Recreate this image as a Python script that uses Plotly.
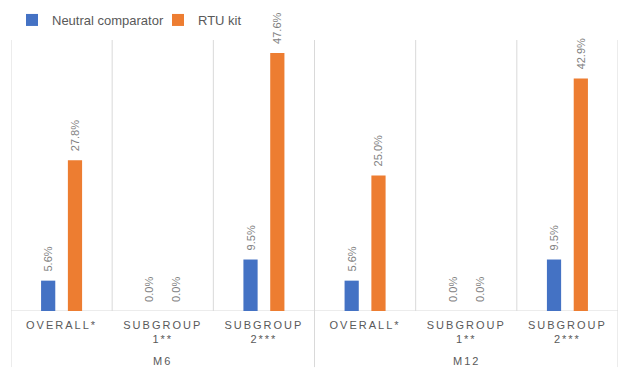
import plotly.graph_objects as go

categories = ["OVERALL*", "SUBGROUP<br>1**", "SUBGROUP<br>2***",
              "OVERALL*", "SUBGROUP<br>1**", "SUBGROUP<br>2***"]
groups = ["M6", "M12"]
neutral = [5.6, 0.0, 9.5, 5.6, 0.0, 9.5]
rtu = [27.8, 0.0, 47.6, 25.0, 0.0, 42.9]

BLUE = "#4472C4"
ORANGE = "#ED7D31"
GRID = "#D9D9D9"
TXT = "#595959"
LBL = "#7F7F7F"
FONT = "Liberation Sans, Arial, sans-serif"

# the page body has an 8px margin, so the figure is sized to the remaining space
W, H = 618, 370


def spaced(s):
    return "<br>".join(f'<span style="letter-spacing:2px">{p}</span>' for p in s.split("<br>"))


fig = go.Figure()
for name, vals, col in [("Neutral comparator", neutral, BLUE), ("RTU kit", rtu, ORANGE)]:
    fig.add_trace(go.Bar(
        x=list(range(len(categories))), y=vals, name=name, marker_color=col,
        marker_line_width=0,
        text=[f"\u00a0\u00a0{v:.1f}%" for v in vals], textposition="outside",
        textangle=-90, cliponaxis=False, constraintext="none",
        textfont=dict(family=FONT, size=11, color=LBL),
    ))

n = len(categories)
shapes = []
for i in range(n + 1):
    xb = i - 0.5
    major = (i % 3 == 0)
    shapes.append(dict(type="line", xref="x", yref="paper", x0=xb, x1=xb,
                       y0=-0.207 if major else 0, y1=1,
                       line=dict(color=GRID, width=1), layer="below"))
shapes.append(dict(type="line", xref="paper", yref="y", x0=0, x1=1, y0=0, y1=0,
                   line=dict(color=GRID, width=1), layer="below"))

annotations = []
for gi, g in enumerate(groups):
    annotations.append(dict(x=gi * 3 + 1, xref="x", y=-0.183, yref="paper",
                            text=spaced(g), showarrow=False, yanchor="middle",
                            font=dict(family=FONT, size=11, color=TXT)))

fig.update_layout(
    width=W, height=H,
    margin=dict(l=3, r=8, t=32, b=67, autoexpand=False),
    paper_bgcolor="white", plot_bgcolor="white",
    barmode="group", bargap=0.47, bargroupgap=0.47,
    shapes=shapes, annotations=annotations,
    font=dict(family=FONT, color=TXT),
    xaxis=dict(range=[-0.5, n - 0.5], tickvals=list(range(n)),
               ticktext=[spaced(c) for c in categories], automargin=False,
               showgrid=False, zeroline=False, showline=False, ticks="",
               ticklabelstandoff=6,
               tickfont=dict(family=FONT, size=11, color=TXT), tickangle=0),
    yaxis=dict(range=[0, 50], visible=False, showgrid=False, zeroline=False,
               automargin=False),
    legend=dict(orientation="h", xref="container", x=4 / W, xanchor="left",
                yref="container", y=1 - 12 / H, yanchor="middle",
                font=dict(family=FONT, size=13, color=TXT), bgcolor="rgba(0,0,0,0)",
                itemwidth=30, entrywidth=101, entrywidthmode="pixels"),
    showlegend=True,
)
fig.write_html("out.html")
